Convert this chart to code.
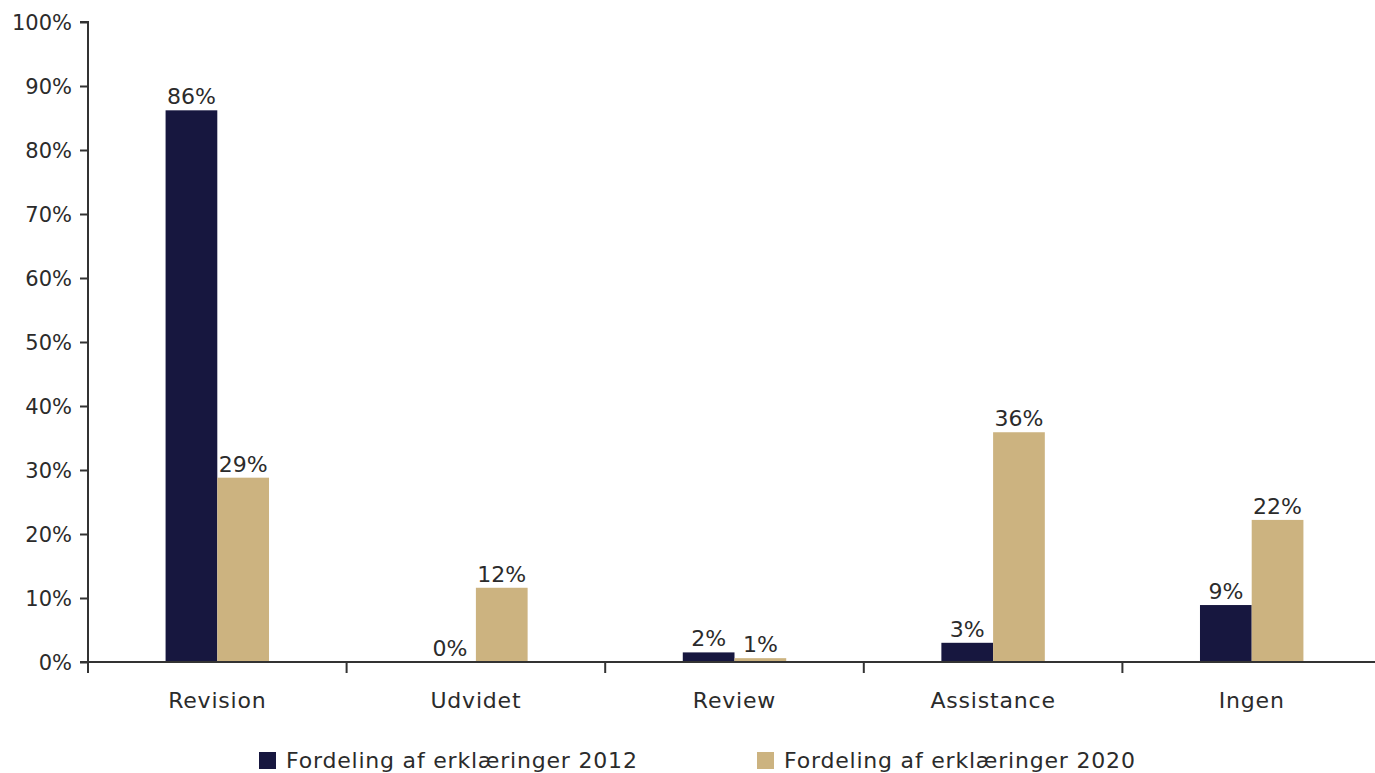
<!DOCTYPE html>
<html>
<head>
<meta charset="utf-8">
<script src="https://cdn.jsdelivr.net/npm/d3@7"></script>
<style>
  html, body { margin: 0; padding: 0; background: #fff; }
  svg { display: block; }
  svg text { font-family: "DejaVu Sans", sans-serif; }
</style>
</head>
<body>
<div id="graph"></div>
<script>
const categories = ["Revision", "Udvidet", "Review", "Assistance", "Ingen"];
const seriesNames = ["Fordeling af erklæringer 2012", "Fordeling af erklæringer 2020"];
const values2012 = [86.2, 0, 1.5, 3.0, 8.9];
const values2020 = [28.8, 11.6, 0.6, 35.9, 22.2];
const yTicks = [0, 10, 20, 30, 40, 50, 60, 70, 80, 90, 100];

const width = 1375;
const height = 773;
const margin = { top: 22, bottom: 111, left: 88, right: -6 };
const colors = ["#17173f", "#ccb380"];
const textColor = "#2b2b2b";

const svg = d3
  .select("#graph")
  .append("svg")
  .attr("width", width)
  .attr("height", height);

const rows = categories.map((c, i) => ({
  category: c,
  values: [values2012[i], values2020[i]],
}));

// Scales
const xScale = d3
  .scaleBand()
  .domain(categories)
  .range([margin.left, width - margin.right]);
const groupScale = d3
  .scaleBand()
  .domain([0, 1])
  .range([xScale.bandwidth() * 0.3, xScale.bandwidth() * 0.7]);
const yScale = d3
  .scaleLinear()
  .domain([0, 100])
  .range([height - margin.bottom, margin.top]);

// Y axis
const yAxis = d3
  .axisLeft(yScale)
  .tickValues(yTicks)
  .tickFormat((d) => d + "%")
  .tickSize(8)
  .tickPadding(8);
const yG = svg
  .append("g")
  .attr("transform", `translate(${margin.left}, 0)`)
  .call(yAxis);
yG.selectAll("path, line").attr("stroke", "#333").attr("stroke-width", 2);
yG.select(".domain").attr("d", `M-8,${yScale(100)}H0V${yScale(0)}`);
yG.selectAll("text")
  .attr("fill", textColor)
  .attr("dy", "0.35em")
  .style("font-size", "21px");

// Bars
const groups = svg
  .append("g")
  .selectAll("g")
  .data(rows)
  .enter()
  .append("g")
  .attr("transform", (d) => `translate(${xScale(d.category)}, 0)`);

groups
  .selectAll("rect")
  .data((d) => d.values)
  .enter()
  .append("rect")
  .attr("x", (d, i) => groupScale(i))
  .attr("y", (d) => yScale(d))
  .attr("width", groupScale.bandwidth())
  .attr("height", (d) => yScale(0) - yScale(d))
  .attr("fill", (d, i) => colors[i]);

groups
  .selectAll("text")
  .data((d) => d.values)
  .enter()
  .append("text")
  .attr("x", (d, i) => groupScale(i) + groupScale.bandwidth() / 2)
  .attr("y", (d) => yScale(d) - 6)
  .attr("text-anchor", "middle")
  .attr("fill", textColor)
  .style("font-size", "22px")
  .text((d) => Math.round(d) + "%");

// X axis
const xAxis = d3
  .axisBottom(xScale)
  .tickSize(0)
  .tickPadding(30);
const xG = svg
  .append("g")
  .attr("transform", `translate(0, ${yScale(0)})`)
  .call(xAxis);
xG.select(".domain")
  .attr("stroke", "#333")
  .attr("stroke-width", 2)
  .attr("d", `M${margin.left - 8},0H${width}`);
xG.selectAll("text")
  .attr("fill", textColor)
  .style("font-size", "22px")
  .style("letter-spacing", "0.8px");
// boundary ticks between categories
xG.append("g")
  .selectAll("line")
  .data(categories)
  .enter()
  .append("line")
  .attr("x1", (d) => xScale(d))
  .attr("x2", (d) => xScale(d))
  .attr("y1", 0)
  .attr("y2", 11)
  .attr("stroke", "#333")
  .attr("stroke-width", 2);

// Legend
const legendX = [259, 757];
const legend = svg
  .append("g")
  .selectAll("g")
  .data(seriesNames)
  .enter()
  .append("g")
  .attr("transform", (d, i) => `translate(${legendX[i]}, 752)`);
legend
  .append("rect")
  .attr("width", 17)
  .attr("height", 17)
  .attr("fill", (d, i) => colors[i]);
legend
  .append("text")
  .attr("x", 27)
  .attr("y", 16)
  .attr("fill", textColor)
  .style("font-size", "22px")
  .style("letter-spacing", "0.8px")
  .text((d) => d);
</script>
</body>
</html>
